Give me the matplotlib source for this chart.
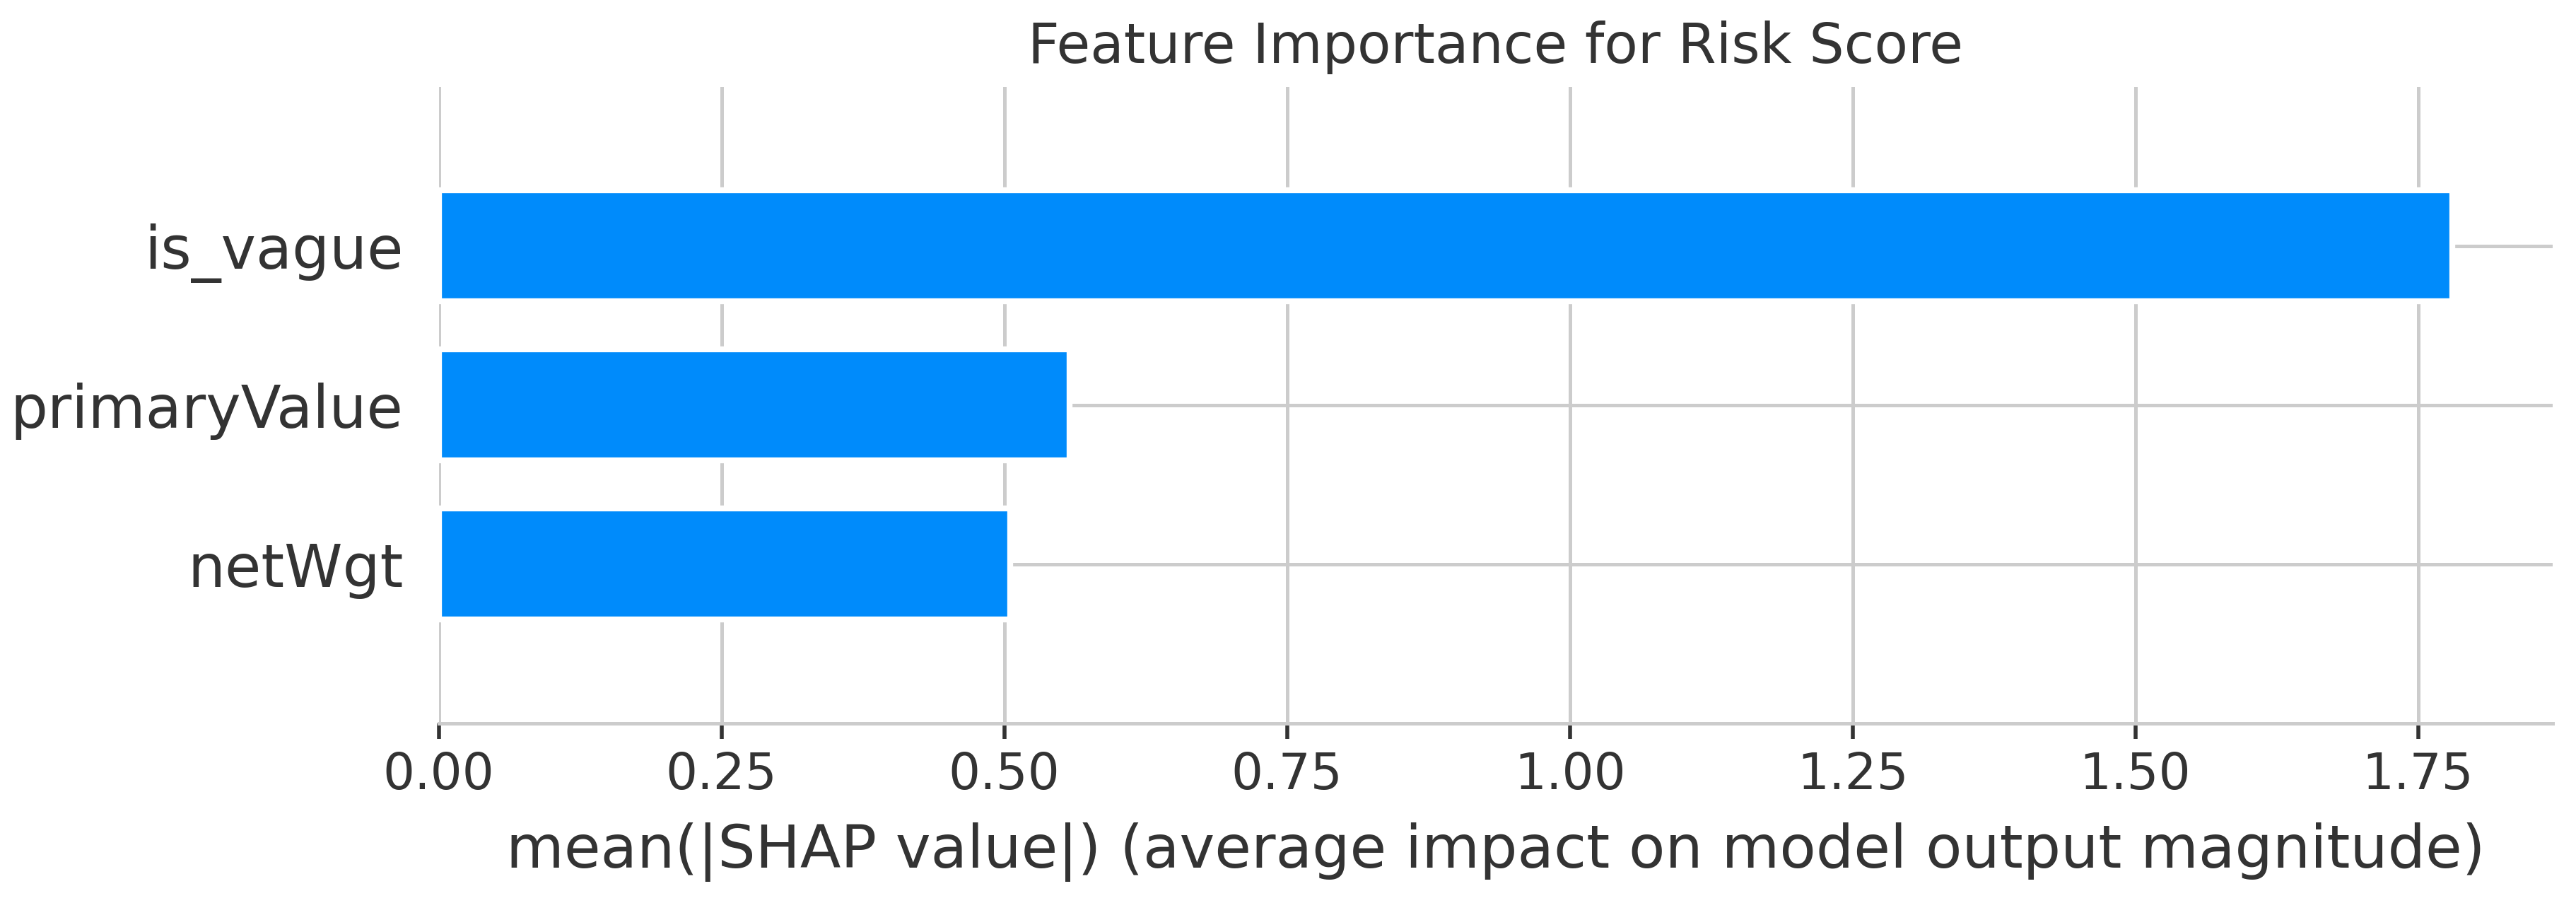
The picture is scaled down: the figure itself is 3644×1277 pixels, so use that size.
import matplotlib
matplotlib.use("Agg")
import matplotlib.pyplot as plt

features = ["netWgt", "primaryValue", "is_vague"]
importance = [0.505, 0.558, 1.780]
xticks = [0.00, 0.25, 0.50, 0.75, 1.00, 1.25, 1.50, 1.75]
title = "Feature Importance for Risk Score"
xlabel = "mean(|SHAP value|) (average impact on model output magnitude)"

plt.rcParams['font.family'] = ['DejaVu Sans']
DPI = 200
fig = plt.figure(figsize=(3644 / DPI, 1277 / DPI), dpi=DPI)
ax = fig.add_axes([620.7 / 3644, 1 - 1022.7 / 1277, (3611 - 620.7) / 3644, (1022.7 - 122.75) / 1277])

ypos = list(range(len(features)))
ax.barh(ypos, importance, height=0.7, color="#008bfb", edgecolor="white",
        linewidth=3.0, zorder=3)
ax.set_ylim(-1, len(features))
ax.set_xlim(left=0)
ax.set_xticks(xticks)
ax.set_xticklabels([f"{v:.2f}" for v in xticks])
ax.set_yticks(ypos)
ax.set_yticklabels(features)

ax.set_axisbelow(True)
ax.grid(True, color="#cccccc", linewidth=1.8, zorder=0)
for s in ["left", "top", "right"]:
    ax.spines[s].set_visible(False)
ax.spines["bottom"].set_color("#cccccc")
ax.spines["bottom"].set_linewidth(1.8)

ax.tick_params(axis="y", length=0, pad=18, labelsize=30, labelcolor="#333333")
ax.tick_params(axis="x", length=8, width=2, color="#333333", pad=6,
               labelsize=25.5, labelcolor="#333333")
ax.set_xlabel(xlabel, fontsize=30.3, color="#333333", labelpad=11.5)
ax.set_title(title, fontsize=28, color="#333333", pad=12)

fig.savefig("out.png", dpi=DPI, facecolor="white")
